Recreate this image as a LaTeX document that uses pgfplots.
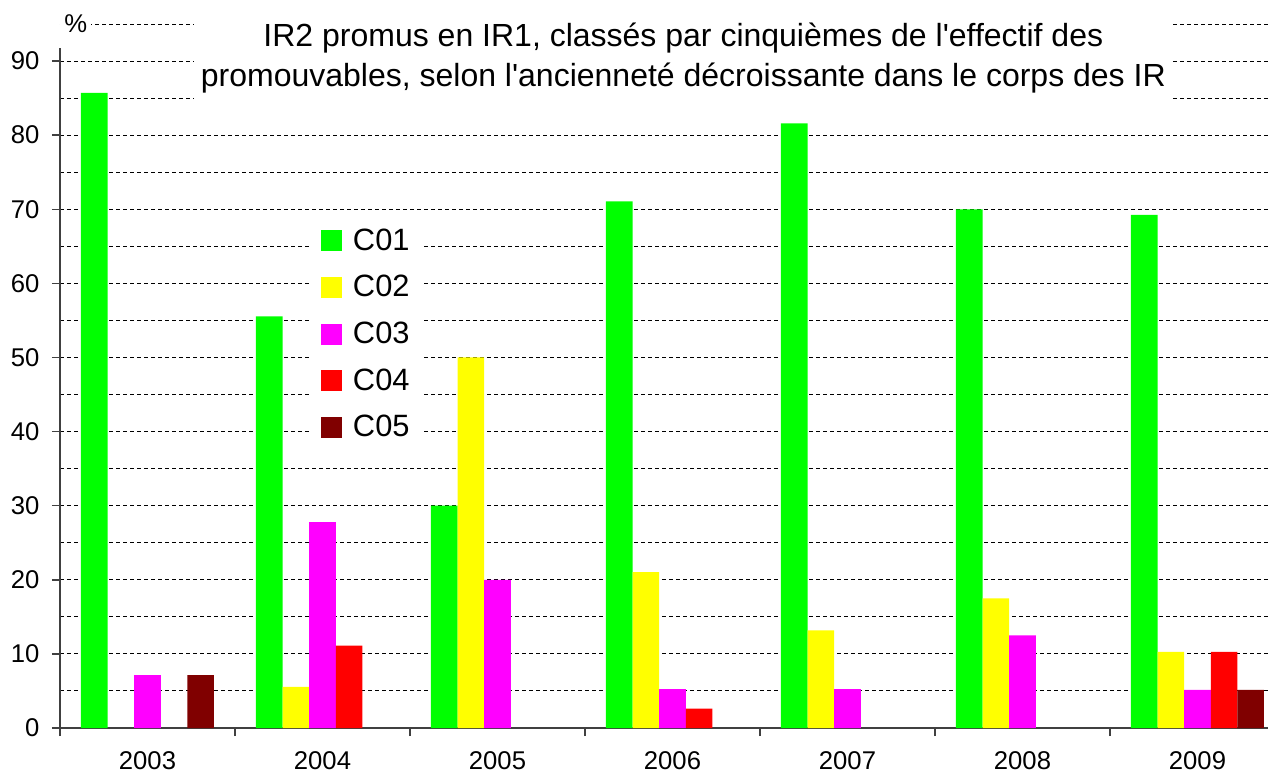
\documentclass[border=0pt]{standalone}
\usepackage{pgfplots}
\pgfplotsset{compat=1.18}
\usepackage{fontspec}
\setmainfont{Liberation Sans}[Ligatures=TeXOff]
\usetikzlibrary{calc}
\definecolor{cA}{HTML}{00FF00}
\definecolor{cB}{HTML}{FFFF00}
\definecolor{cC}{HTML}{FF00FF}
\definecolor{cD}{HTML}{FF0000}
\definecolor{cE}{HTML}{800000}
\begin{document}
\begin{tikzpicture}
\begin{axis}[
  scale only axis, width=724.8pt, height=422.4pt,
  xmin=-0.5, xmax=6.403, ymin=0, ymax=95,
  clip mode=individual,
  ybar=0pt, bar width=0.152,
  axis lines=left,
  axis line style={-, draw=black!75, line width=0.9pt},
  y axis line style={shorten >=14.4pt},
  tick align=outside,
  major tick length=4.8pt, minor tick length=4.8pt,
  tick style={draw=black!75, line width=0.9pt},
  xtick={0,1,2,3,4,5,6},
  xticklabels={2003,2004,2005,2006,2007,2008,2009},
  every major x tick/.append style={draw=none},
  minor xtick={-0.5,0.5,1.5,2.5,3.5,4.5,5.5,6.5},
  ytick={0,10,...,90},
  minor ytick={5,15,...,95},
  every minor y tick/.append style={draw=none},
  ymajorgrids, yminorgrids,
  major grid style={black, line width=0.6pt, dash pattern=on 2.4pt off 1.8pt},
  minor grid style={black, line width=0.6pt, dash pattern=on 2.4pt off 1.8pt},
  /pgf/number format/assume math mode=true,
  tick label style={font=\fontsize{15.4}{18}\selectfont},
  yticklabel style={xshift=-4pt},
  xticklabel style={yshift=-5.8pt},
  legend style={at={(rel axis cs:0.2086,0.7287)}, anchor=north west,
    draw=none, fill=white, font=\fontsize{18.5}{22}\selectfont,
    row sep=9.6pt, inner xsep=5pt, inner ysep=6pt,
    /tikz/every odd column/.append style={column sep=4.8pt}},
  legend cell align=left,
  legend image code/.code={\fill[#1] (0pt,-6.3pt) rectangle (12.6pt,6.3pt);},
]
\addplot[fill=cA, draw=none] coordinates {(0,85.71) (1,55.56) (2,30) (3,71.05) (4,81.58) (5,70) (6,69.23)};
\addplot[fill=cB, draw=none] coordinates {(1,5.56) (2,50) (3,21.05) (4,13.16) (5,17.5) (6,10.26)};
\addplot[fill=cC, draw=none] coordinates {(0,7.14) (1,27.78) (2,20) (3,5.26) (4,5.26) (5,12.5) (6,5.13)};
\addplot[fill=cD, draw=none] coordinates {(1,11.11) (3,2.63) (6,10.26)};
\addplot[fill=cE, draw=none] coordinates {(0,7.14) (6,5.13)};
\legend{C01,C02,C03,C04,C05}
\node[fill=white, align=center, font=\fontsize{19.2}{24}\selectfont, inner xsep=4.2pt, inner ysep=8pt]
  at (rel axis cs:0.516,0.952) {IR2 promus en IR1, classés par cinquièmes de l'effectif des\\promouvables, selon l'ancienneté décroissante dans le corps des IR};
\node[anchor=west, fill=white, inner xsep=2.4pt, font=\fontsize{15.4}{18}\selectfont] at (rel axis cs:0,1) {\%};
\coordinate (bl) at (rel axis cs:0,0);
\coordinate (tr) at (rel axis cs:1,1);
\end{axis}
\pgfresetboundingbox
\path[use as bounding box] ($(bl)+(-36pt,-28.8pt)$) rectangle ($(tr)+(0pt,14.4pt)$);
\end{tikzpicture}
\end{document}
